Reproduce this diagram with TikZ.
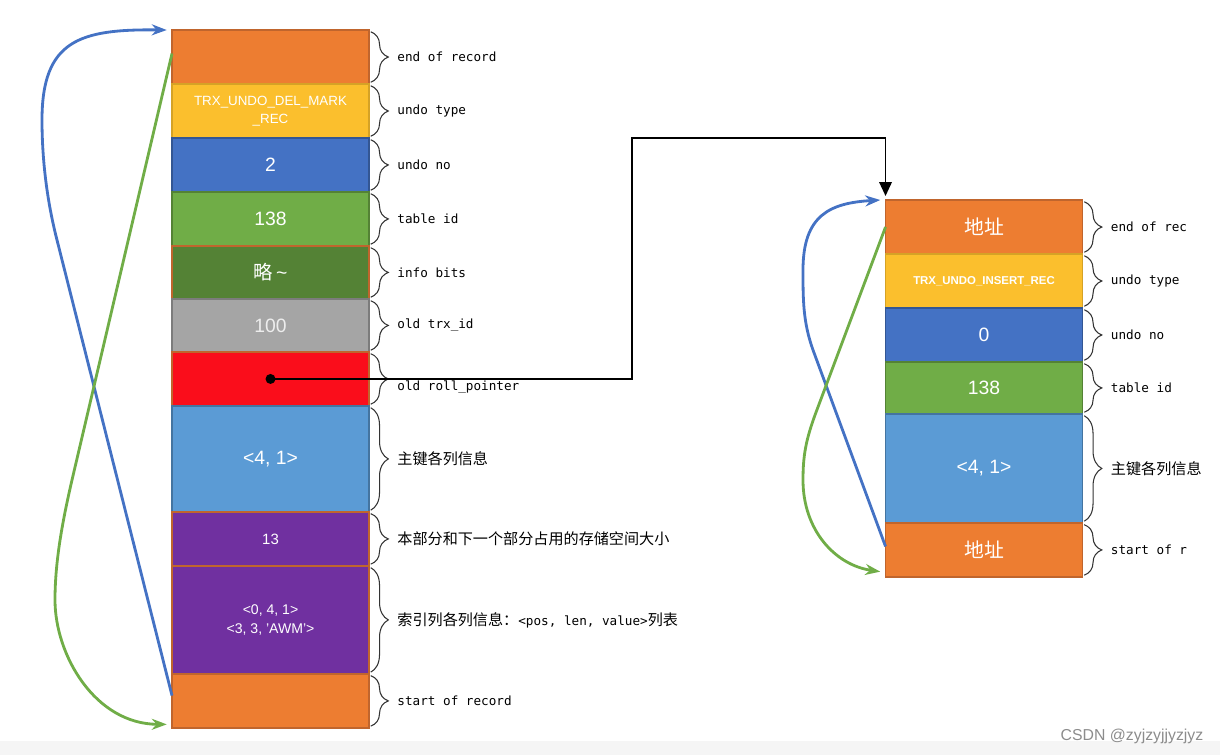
\documentclass[tikz,border=0pt]{standalone}
\usepackage{fontspec}
\setmainfont{Liberation Sans}
\setmonofont{DejaVu Sans Mono}
\newfontfamily\cjk{Noto Sans CJK SC}
\usetikzlibrary{positioning,arrows.meta,decorations.pathreplacing}

\definecolor{orng}{HTML}{ED7D31}
\definecolor{gold}{HTML}{FBBF2D}
\definecolor{blu}{HTML}{4472C4}
\definecolor{grn}{HTML}{70AD47}
\definecolor{dgrn}{HTML}{548235}
\definecolor{gry}{HTML}{A5A5A5}
\definecolor{rd}{HTML}{FA0D1B}
\definecolor{lblu}{HTML}{5B9BD5}
\definecolor{purp}{HTML}{7030A0}
\definecolor{brn}{HTML}{C0652D}

\tikzset{
  rec/.style 2 args={draw=#2, fill=#1, line width=0.8pt, minimum width=3.94cm,
    outer sep=0pt, inner sep=1pt, text=white, align=center,
    font=\fontsize{11}{13}\selectfont},
  brc/.style={draw=black!80, line width=0.6pt, decorate,
    decoration={brace, amplitude=10pt}},
  lab/.style={anchor=west, inner sep=0pt, font=\ttfamily\fontsize{7.2}{9}\selectfont},
  cjklab/.style={anchor=west, inner sep=0pt, font=\cjk\fontsize{8.6}{10}\selectfont},
  link/.style={line width=1.6pt, -{Stealth[length=0.3cm,width=0.22cm]}},
}

\begin{document}
\begin{tikzpicture}[x=0.02cm,y=-0.02cm]
        \useasboundingbox (0,0) rectangle (1220,755);
        \fill[black!4] (0,741) rectangle (1220,755);

        % undo log record (delete mark)
        \node[rec={orng}{brn}, minimum height=1.08cm] (l1) at (270.5,57) {};
        \node[rec={gold}{gold!85!black}, minimum height=1.08cm, below=0pt of l1,
              font=\fontsize{7.6}{10.6}\selectfont] (l2) {TRX\_UNDO\_DEL\_MARK\\\_REC};
        \node[rec={blu}{blu!75!black}, minimum height=1.08cm, below=0pt of l2] (l3) {2};
        \node[rec={grn}{dgrn}, minimum height=1.08cm, below=0pt of l3] (l4) {138};
        \node[rec={dgrn}{brn}, minimum height=1.06cm, below=0pt of l4] (l5) {{\cjk 略}\,\textasciitilde};
        \node[rec={gry}{gry!75!black}, minimum height=1.06cm, below=0pt of l5, text=white!93!black] (l6) {100};
        \node[rec={rd}{brn}, minimum height=1.08cm, below=0pt of l6] (l7) {};
        \node[rec={lblu}{lblu!75!black}, minimum height=2.12cm, below=0pt of l7] (l8) {<4, 1>};
        \node[rec={purp}{brn}, minimum height=1.08cm, below=0pt of l8,
              font=\fontsize{8.5}{10}\selectfont] (l9) {13};
        \node[rec={purp}{brn}, minimum height=2.16cm, below=0pt of l9,
              font=\fontsize{8}{10.6}\selectfont] (l10) {<0, 4, 1>\\<3, 3, 'AWM'>};
        \node[rec={orng}{brn}, minimum height=1.08cm, below=0pt of l10] (l11) {};

        % undo log record (insert)
        \node[rec={orng}{brn}, minimum height=1.08cm, font=\cjk\fontsize{11.3}{13}\selectfont] (r1) at (984,227) {地址};
        \node[rec={gold}{gold!85!black}, minimum height=1.08cm, below=0pt of r1,
              font=\bfseries\fontsize{6.5}{8}\selectfont] (r2) {TRX\_UNDO\_INSERT\_REC};
        \node[rec={blu}{blu!75!black}, minimum height=1.08cm, below=0pt of r2] (r3) {0};
        \node[rec={grn}{dgrn}, minimum height=1.04cm, below=0pt of r3] (r4) {138};
        \node[rec={lblu}{lblu!75!black}, minimum height=2.18cm, below=0pt of r4] (r5) {<4, 1>};
        \node[rec={orng}{brn}, minimum height=1.08cm, below=0pt of r5, font=\cjk\fontsize{11.3}{13}\selectfont] (r6) {地址};

        % braces
        \foreach \b in {1,...,11} {
          \draw[brc] ([shift={(1pt,-1pt)}]l\b.north east) -- ([shift={(1pt,1pt)}]l\b.south east);
        }
        \foreach \b in {1,...,6} {
          \draw[brc] ([shift={(1pt,-1pt)}]r\b.north east) -- ([shift={(1pt,1pt)}]r\b.south east);
        }

        % field names
        \node[lab] (t1) at ([xshift=16pt]l1.east) {end of record};
        \node[lab] (t2) at ([xshift=16pt]l2.east) {undo type};
        \node[lab] (t3) at ([xshift=16pt]l3.east) {undo no};
        \node[lab] (t4) at ([xshift=16pt]l4.east) {table id};
        \node[lab] (t5) at ([xshift=16pt]l5.east) {info bits};
        \node[lab] (t6) at ([xshift=16pt]l6.east) {old trx\_id};
        \node[lab] (t7) at ([shift={(16pt,-4.5pt)}]l7.east) {old roll\_pointer};
        \node[cjklab] (t8) at ([xshift=16pt]l8.east) {主键各列信息};
        \node[cjklab] (t9) at ([xshift=16pt]l9.east) {本部分和下一个部分占用的存储空间大小};
        \node[cjklab] (t10) at ([xshift=16pt]l10.east) {索引列各列信息：\ttfamily\fontsize{7.2}{9}\selectfont<pos, len, value>\cjk\fontsize{8.6}{10}\selectfont 列表};
        \node[lab] (t11) at ([xshift=16pt]l11.east) {start of record};

        \node[lab] (s1) at ([xshift=16pt]r1.east) {end of rec};
        \node[lab] (s2) at ([xshift=16pt]r2.east) {undo type};
        \node[lab] (s3) at ([xshift=16pt]r3.east) {undo no};
        \node[lab] (s4) at ([xshift=16pt]r4.east) {table id};
        \node[cjklab] (s5) at ([xshift=16pt]r5.east) {主键各列信息};
        \node[lab] (s6) at ([xshift=16pt]r6.east) {start of r};

        % roll pointer
        \node[circle, fill=black, inner sep=0pt, minimum size=0.2cm] (ptr) at (l7.center) {};
        \coordinate (bend) at (632,138);
        \draw[line width=1.1pt, -{Triangle[length=0.28cm,width=0.25cm]}]
          (ptr.center) -| (bend) -| ([yshift=0.08cm]r1.north west);

        % start/end links
        \draw[link, blu] ([yshift=3pt]l11.west) -- (57,240) .. controls (47,201) and (42,160) .. (42,120)
          .. controls (42,40) and (80,29) .. ([xshift=-3pt]l1.north west);
        \draw[link, grn] ([yshift=2pt]l1.west) -- (72,480) .. controls (63,519) and (55,560) .. (55,600)
          .. controls (55,655) and (95,724) .. ([shift={(-3pt,2pt)}]l11.south west);
        \draw[link, blu] ([yshift=2pt]r6.west) -- (813,350) .. controls (803,322) and (803,300) .. (803,270)
          .. controls (803,215) and (830,203) .. ([xshift=-3pt]r1.north west);
        \draw[link, grn] (r1.west) -- (815,415) .. controls (806,440) and (803,455) .. (803,480)
          .. controls (803,530) and (835,565) .. ([shift={(-3pt,3pt)}]r6.south west);

        \node[text=black!45, font=\fontsize{9}{11}\selectfont] (csdn) at (1132,736) {CSDN @zyjzyjjyzjyz};
    \end{tikzpicture}
\end{document}
